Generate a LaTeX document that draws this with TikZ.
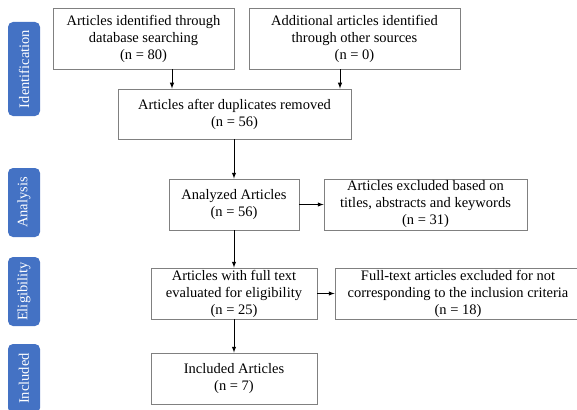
\documentclass[tikz,border=0pt]{standalone}
\usepackage{fontspec}
\setmainfont{Liberation Serif}
\definecolor{tabblue}{HTML}{4472C4}
\definecolor{boxline}{HTML}{808080}

\begin{document}
\begin{tikzpicture}[x=1pt, y=-1pt, >=latex, font=\fontsize{14.5}{17}\selectfont,
    flowbox/.style={draw=boxline, line width=0.9pt, align=center, inner sep=1pt, minimum height=51pt},
    stage/.style={fill=tabblue, rounded corners=5pt, text=white, rotate=90,
      minimum height=32pt, inner sep=0pt},
    flow/.style={->, line width=1pt}]
    \useasboundingbox (0,0) rectangle (577,409);
    % stage tabs on the left
    \node[stage, minimum width=94pt] (tabid)  at (24,69)    {Identification};
    \node[stage, minimum width=69pt] (tabana) at (24,202.5) {Analysis};
    \node[stage, minimum width=69pt] (tabeli) at (24,291.5) {Eligibility};
    \node[stage, minimum width=69pt] (tabinc) at (24,378.5) {Included};
    % boxes
    \node[flowbox, minimum width=181pt, minimum height=61pt] (dbsearch) at (143.5,38.5)
      {Articles identified through\\database searching\\(n = 80)};
    \node[flowbox, minimum width=211pt, minimum height=61pt] (othersrc) at (354.5,38.5)
      {Additional articles identified\\through other sources\\(n = 0)};
    \node[flowbox, minimum width=233pt, minimum height=50pt] (dedup) at (234.5,114)
      {Articles after duplicates removed\\(n = 56)};
    \node[flowbox, minimum width=130pt] (analyzed) at (234,204.5)
      {Analyzed Articles\\(n = 56)};
    \node[flowbox, minimum width=203pt] (exclone) at (425.5,204.5)
      {Articles excluded based on\\titles, abstracts and keywords\\(n = 31)};
    \node[flowbox, minimum width=166pt] (fulltext) at (234,293.5)
      {Articles with full text\\evaluated for eligibility\\(n = 25)};
    \node[flowbox, minimum width=246pt] (excltwo) at (458,293.5)
      {Full-text articles excluded for not\\corresponding to the inclusion criteria\\(n = 18)};
    \node[flowbox, minimum width=166pt] (included) at (234,378.5)
      {Included Articles\\(n = 7)};
    % arrows
    \draw[flow] ([xshift=28.5pt]dbsearch.south) -- ([xshift=28.5pt]dbsearch.south |- dedup.north);
    \draw[flow] ([xshift=-14.5pt]othersrc.south) -- ([xshift=-14.5pt]othersrc.south |- dedup.north);
    \draw[flow] (dedup.south -| analyzed) -- (analyzed.north);
    \draw[flow] (analyzed) -- (fulltext);
    \draw[flow] (fulltext) -- (included);
    \draw[flow] (analyzed) -- (exclone);
    \draw[flow] (fulltext) -- (excltwo);
\end{tikzpicture}
\end{document}
